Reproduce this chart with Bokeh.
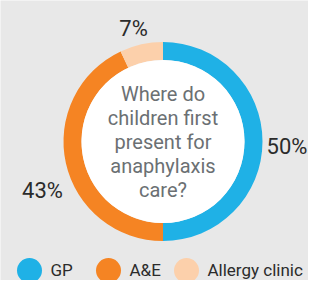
import math
from bokeh.plotting import figure
from bokeh.models import Range1d, ColumnDataSource
from bokeh.core.properties import value
from bokeh.embed import file_html
from bokeh.resources import INLINE

categories = ["GP", "A&E", "Allergy clinic"]
shares = [50, 43, 7]
colors = ["#1fb1e6", "#f58423", "#fcd0ab"]
question_lines = ["Where do", "children first", "present for", "anaphylaxis", "care?"]

W, H = 308, 280
BG = "#e8e8e8"
FONT = "Roboto"

p = figure(width=W, height=H, output_backend="svg", toolbar_location=None,
           x_range=Range1d(0, W), y_range=Range1d(0, H), min_border=0,
           background_fill_color=BG, border_fill_color=BG, outline_line_color=None)
p.axis.visible = False
p.grid.visible = False

cx, cy = 162.5, H - 141
r_out, r_in = 99.5, 81.5

total = sum(shares)
starts, ends = [], []
cum = 0
for s in shares:
    starts.append(math.pi / 2 - 2 * math.pi * (cum + s) / total)
    ends.append(math.pi / 2 - 2 * math.pi * cum / total)
    cum += s

src = ColumnDataSource(dict(start=starts, end=ends, color=colors))
p.annular_wedge(x=cx, y=cy, inner_radius=r_in, outer_radius=r_out,
                start_angle="start", end_angle="end", color="color",
                direction="anticlock", source=src, line_color=None)
p.circle(x=cx, y=cy, radius=r_in, fill_color="white", line_color=None)

# percentage labels (offsets from centre, px)
label_dx = [124, -120.5, -29.5]
label_dy = [-5, -49, 113]
p.text(x=[cx + d for d in label_dx], y=[cy + d for d in label_dy],
       text=[f"{s}%" for s in shares], text_font=value(FONT), text_font_size="22px",
       text_color="#2b2b2b", text_align="center", text_baseline="middle")

# central question
n = len(question_lines)
p.text(x=[cx] * n, y=[cy + (n // 2 - i) * 24 for i in range(n)], text=question_lines,
       text_font=value(FONT), text_font_size="20px", text_color="#6b7073",
       text_align="center", text_baseline="middle")

# legend
leg_x = [29, 108, 186]
leg_y = H - 270
p.circle(x=leg_x, y=[leg_y] * 3, radius=12.5, fill_color=colors, line_color=None)
p.text(x=[x + 21 for x in leg_x], y=[leg_y + 1] * 3, text=categories,
       text_font=value(FONT), text_font_size="17px", text_color="#2b2b2b",
       text_align="left", text_baseline="middle")

open("out.html", "w").write(file_html(p, INLINE))
